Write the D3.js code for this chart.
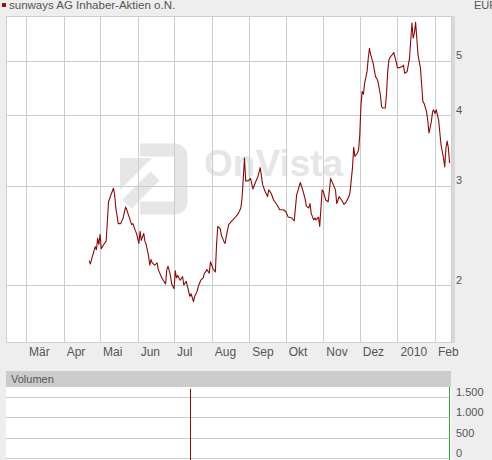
<!DOCTYPE html>
<html><head><meta charset="utf-8">
<script src="https://cdn.jsdelivr.net/npm/d3@7"></script>
<style>
html,body{margin:0;padding:0;background:#eeeeee;overflow:hidden;}
svg{display:block;font-family:Arial,"Liberation Sans",sans-serif;}
</style></head><body>
<svg id="c" width="492" height="460"></svg>
<script>
const title = "sunways AG Inhaber-Aktien o.N.";
const currency = "EUR";
const volumeTitle = "Volumen";

const dates = [
"2009-04-22","2009-04-23","2009-04-25","2009-04-27","2009-04-28","2009-04-29","2009-04-30","2009-05-01","2009-05-02","2009-05-04",
"2009-05-06","2009-05-07","2009-05-08","2009-05-10","2009-05-12","2009-05-13","2009-05-14","2009-05-16","2009-05-18","2009-05-20",
"2009-05-22","2009-05-23","2009-05-25","2009-05-27","2009-05-28","2009-05-30","2009-05-31","2009-06-02","2009-06-03","2009-06-04",
"2009-06-06","2009-06-07","2009-06-08","2009-06-10","2009-06-11","2009-06-12","2009-06-13","2009-06-15","2009-06-17","2009-06-18",
"2009-06-20","2009-06-22","2009-06-24","2009-06-25","2009-06-26","2009-06-28","2009-06-29","2009-07-01","2009-07-02","2009-07-03",
"2009-07-04","2009-07-06","2009-07-08","2009-07-09","2009-07-11","2009-07-13","2009-07-14","2009-07-15","2009-07-17","2009-07-18",
"2009-07-20","2009-07-21","2009-07-23","2009-07-25","2009-07-26","2009-07-27","2009-07-28","2009-07-30","2009-07-31","2009-08-02",
"2009-08-04","2009-08-05","2009-08-06","2009-08-08","2009-08-09","2009-08-11","2009-08-12","2009-08-13","2009-08-15","2009-08-17",
"2009-08-20","2009-08-23","2009-08-25","2009-08-26","2009-08-27","2009-08-28","2009-08-29","2009-08-31","2009-09-02","2009-09-04",
"2009-09-06","2009-09-08","2009-09-10","2009-09-12","2009-09-14","2009-09-16","2009-09-17","2009-09-19","2009-09-21","2009-09-24",
"2009-09-26","2009-09-29","2009-10-01","2009-10-03","2009-10-06","2009-10-08","2009-10-10","2009-10-13","2009-10-15","2009-10-17",
"2009-10-18","2009-10-20","2009-10-21","2009-10-22","2009-10-24","2009-10-25","2009-10-26","2009-10-28","2009-10-29","2009-10-31",
"2009-11-01","2009-11-03","2009-11-05","2009-11-07","2009-11-09","2009-11-11","2009-11-12","2009-11-14","2009-11-16","2009-11-18",
"2009-11-20","2009-11-22","2009-11-23","2009-11-25","2009-11-26","2009-11-27","2009-11-29","2009-11-30","2009-12-01","2009-12-02",
"2009-12-03","2009-12-04","2009-12-05","2009-12-07","2009-12-08","2009-12-09","2009-12-10","2009-12-12","2009-12-13","2009-12-14",
"2009-12-15","2009-12-16","2009-12-18","2009-12-19","2009-12-20","2009-12-22","2009-12-23","2009-12-24","2009-12-25","2009-12-26",
"2009-12-28","2009-12-29","2009-12-31","2010-01-01","2010-01-03","2010-01-05","2010-01-06","2010-01-07","2010-01-09","2010-01-10",
"2010-01-11","2010-01-12","2010-01-13","2010-01-14","2010-01-15","2010-01-16","2010-01-17","2010-01-18","2010-01-20","2010-01-21",
"2010-01-22","2010-01-23","2010-01-25","2010-01-26","2010-01-27","2010-01-29","2010-01-30","2010-01-31","2010-02-01","2010-02-02",
"2010-02-04","2010-02-05","2010-02-06","2010-02-08","2010-02-09","2010-02-10","2010-02-11","2010-02-12","2010-02-13"
];
const prices = [
2.21,2.18,2.26,2.34,2.31,2.42,2.36,2.46,2.32,2.36,
2.39,2.59,2.81,2.89,2.97,2.89,2.74,2.57,2.57,2.63,
2.75,2.72,2.64,2.56,2.57,2.50,2.47,2.37,2.49,2.40,
2.47,2.39,2.36,2.25,2.17,2.22,2.19,2.17,2.19,2.13,
2.08,2.04,2.01,2.13,2.16,2.08,2.01,1.97,2.12,2.06,
2.08,2.04,2.07,2.00,2.03,1.95,1.91,1.93,1.87,1.91,
1.95,1.99,2.04,2.06,2.10,2.11,2.13,2.10,2.20,2.14,
2.11,2.36,2.54,2.52,2.45,2.39,2.37,2.44,2.56,2.59,
2.63,2.68,2.74,2.85,3.09,3.36,3.06,3.06,3.09,2.96,
3.04,3.11,3.23,3.01,2.93,2.87,2.95,2.91,2.83,2.77,
2.72,2.72,2.70,2.64,2.63,2.60,2.89,3.04,2.95,2.84,
2.76,2.74,2.79,2.68,2.61,2.63,2.61,2.64,2.54,2.95,
2.93,2.83,2.81,3.09,3.02,2.95,2.79,2.87,2.83,2.78,
2.81,2.87,2.92,3.23,3.51,3.38,3.43,3.47,3.69,4.17,
4.41,4.36,4.56,4.78,5.05,5.26,5.12,4.95,4.81,4.68,
4.65,4.59,4.35,4.14,4.12,4.12,4.35,4.78,5.01,5.07,
5.13,5.17,4.98,4.86,4.86,4.88,4.91,4.75,4.78,4.91,
5.05,5.44,5.83,5.48,5.59,5.85,5.48,5.12,4.85,4.53,
4.23,4.20,4.06,3.92,3.72,3.90,4.06,4.09,4.03,4.09,
3.92,3.72,3.54,3.36,3.24,3.50,3.60,3.50,3.29
];

const monthTicks = ["2009-03-01","2009-04-01","2009-05-01","2009-06-01","2009-07-01","2009-08-01",
  "2009-09-01","2009-10-01","2009-11-01","2009-12-01","2010-01-01","2010-02-01"];
const monthLabels = ["Mär","Apr","Mai","Jun","Jul","Aug","Sep","Okt","Nov","Dez","2010","Feb"];
const priceTicks = [2,3,4,5];
const priceTickLabels = ["2","3","4","5"];

const volumeDates = ["2009-07-14"];
const volumeValues = [1720];
const volumeTicks = [0,500,1000,1500];
const volumeTickLabels = ["0","500","1.000","1.500"];

const parse = d3.timeParse("%Y-%m-%d");
const svg = d3.select("#c");

// layout
const P = {l:6, r:452, t:16, b:342};
const V = {l:6, r:451, head:371, t:387, b:459};

const x = d3.scaleTime()
  .domain([new Date(2009,1,12,12), new Date(2010,1,15)])
  .range([P.l, P.r]);
const y = d3.scaleLog().domain([1.585, 6.0]).range([P.b, P.t]);
const yv = d3.scaleLinear().domain([0, 1765]).range([V.b, V.t]);

// title
svg.append("rect").attr("x",2).attr("y",3).attr("width",4).attr("height",4).attr("fill","#a01010");
svg.append("text").attr("x",9).attr("y",9).attr("font-size","11.5px").attr("fill","#555").text(title);
svg.append("text").attr("x",474).attr("y",9).attr("font-size","11px").attr("fill","#555").text(currency);

// main panel
svg.append("rect").attr("x",P.r).attr("y",P.t).attr("width",3).attr("height",P.b-P.t+1).attr("fill","#d9d9d9");
svg.append("rect").attr("x",P.l+0.5).attr("y",P.t+0.5).attr("width",P.r-P.l-1).attr("height",P.b-P.t)
  .attr("fill","#fff").attr("stroke","#cfcfcf");

// watermark
const wm = svg.append("g").attr("fill","none").attr("stroke","#e6e6e6").attr("stroke-width",13).attr("stroke-linecap","butt");
wm.append("path").attr("d","M140,150 H174 Q181,150 181,157 V201 Q181,208 174,208 H140");
wm.append("path").attr("d","M127,204 L155,176");
wm.append("path").attr("d","M120,158 L152,158 L120,190 Z").attr("fill","#e6e6e6").attr("stroke","none");
svg.append("text").attr("x",204).attr("y",176).attr("font-size","37px").attr("font-weight","bold")
  .attr("fill","#e6e6e6").text("OnVista");

// grid
const gx = svg.append("g");
gx.selectAll("line.v").data(monthTicks).join("line")
  .attr("x1",d=>Math.round(x(parse(d)))+0.5).attr("x2",d=>Math.round(x(parse(d)))+0.5)
  .attr("y1",P.t+1).attr("y2",P.b).attr("stroke","#cccccc");
gx.selectAll("line.h").data(priceTicks).join("line")
  .attr("x1",P.l+1).attr("x2",P.r-1)
  .attr("y1",d=>Math.round(y(d))+0.5).attr("y2",d=>Math.round(y(d))+0.5).attr("stroke","#cccccc");

// axis labels
svg.append("g").selectAll("text").data(monthTicks).join("text")
  .attr("x",d=>x(parse(d))+3).attr("y",356).attr("font-size","12px").attr("fill","#555")
  .text((d,i)=>monthLabels[i]);
svg.append("g").selectAll("text").data(priceTicks).join("text")
  .attr("x",456).attr("y",d=>y(d)-1.5).attr("font-size","11px").attr("fill","#555")
  .text((d,i)=>priceTickLabels[i]);

// price line
const data = dates.map((d,i)=>({date:parse(d), v:prices[i]}));
svg.append("path").datum(data)
  .attr("fill","none").attr("stroke","#8b0a0a").attr("stroke-width",1.1).attr("stroke-linejoin","round")
  .attr("d", d3.line().x(d=>x(d.date)).y(d=>y(d.v)));

// volume panel
svg.append("rect").attr("x",V.l).attr("y",V.head).attr("width",V.r-V.l).attr("height",V.t-V.head).attr("fill","#cccccc");
svg.append("text").attr("x",11).attr("y",383).attr("font-size","11px").attr("fill","#555").text(volumeTitle);
svg.append("rect").attr("x",V.l).attr("y",V.t).attr("width",V.r-V.l).attr("height",460-V.t).attr("fill","#fff");
svg.append("g").selectAll("line").data(volumeTicks).join("line")
  .attr("x1",V.l).attr("x2",449).attr("y1",d=>Math.round(yv(d))-0.5).attr("y2",d=>Math.round(yv(d))-0.5)
  .attr("stroke","#cccccc");
svg.append("g").selectAll("line").data(volumeDates).join("line")
  .attr("x1",d=>Math.round(x(parse(d)))+0.5).attr("x2",d=>Math.round(x(parse(d)))+0.5)
  .attr("y1",(d,i)=>yv(volumeValues[i])).attr("y2",yv(0)+1)
  .attr("stroke","#8b0a0a").attr("stroke-width",1);
svg.append("line").attr("x1",449.5).attr("x2",449.5).attr("y1",V.t).attr("y2",460).attr("stroke","#3aa03a");
svg.append("g").selectAll("text").data(volumeTicks).join("text")
  .attr("x",456).attr("y",d=>yv(d)-2).attr("font-size","11px").attr("fill","#555")
  .text((d,i)=>volumeTickLabels[i]);
</script>
</body></html>
